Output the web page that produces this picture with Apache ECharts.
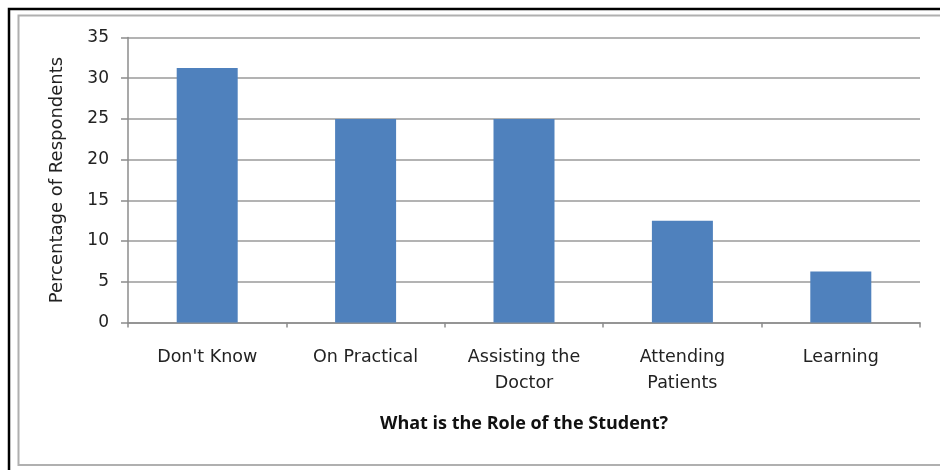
<!DOCTYPE html>
<html><head><meta charset="utf-8">
<script src="https://cdn.jsdelivr.net/npm/echarts@6/dist/echarts.min.js"></script>
<style>html,body{margin:0;padding:0;background:#fff}#c{width:940px;height:470px}</style>
</head><body><div id="c"></div>
<script>
const categories = ["Don't Know", "On Practical", "Assisting the\nDoctor", "Attending\nPatients", "Learning"];
const values = [31.25, 25, 25, 12.5, 6.25];
const yTicks = [0, 5, 10, 15, 20, 25, 30, 35];
const xTitle = "What is the Role of the Student?";
const yTitle = "Percentage of Respondents";

const chart = echarts.init(document.getElementById('c'));
const font = "'DejaVu Sans', sans-serif";
const bold = "'Open Sans', 'Liberation Sans', sans-serif";
chart.setOption({
  animation: false,
  graphic: [
    { type: 'rect', shape: { x: 9, y: 9, width: 960, height: 500 }, style: { fill: 'none', stroke: '#000', lineWidth: 2.5 }, silent: true },
    { type: 'rect', shape: { x: 18.5, y: 15.5, width: 960, height: 449.5 }, style: { fill: 'none', stroke: '#b0b0b0', lineWidth: 2 }, silent: true }
  ],
  grid: { left: 128, right: 20, top: 37.5, bottom: 147.5, containLabel: false },
  xAxis: {
    type: 'category',
    data: categories,
    name: xTitle,
    nameLocation: 'middle',
    nameGap: 92,
    nameTextStyle: { fontFamily: bold, fontSize: 18, fontWeight: 'bold', color: '#111' },
    axisLine: { lineStyle: { color: '#8c8c8c', width: 1.5 } },
    axisTick: { show: true, length: 5, lineStyle: { color: '#8c8c8c', width: 1.5 } },
    axisLabel: { fontFamily: font, fontSize: 17.5, color: '#222', margin: 22, lineHeight: 26, interval: 0 }
  },
  yAxis: {
    type: 'value',
    min: 0, max: 35, interval: 5,
    name: yTitle,
    nameLocation: 'middle',
    nameRotate: 90,
    nameGap: 62,
    nameTextStyle: { fontFamily: font, fontSize: 18, color: '#222' },
    axisLine: { show: true, lineStyle: { color: '#8c8c8c', width: 1.5 } },
    axisTick: { show: true, length: 7, lineStyle: { color: '#8c8c8c', width: 1.5 } },
    axisLabel: { fontFamily: font, fontSize: 17, color: '#222', margin: 19 },
    splitLine: { lineStyle: { color: '#9a9a9a', width: 1.5 } }
  },
  series: [{
    type: 'bar',
    data: values,
    barWidth: 61,
    itemStyle: { color: '#4F81BD' }
  }]
});
</script></body></html>
